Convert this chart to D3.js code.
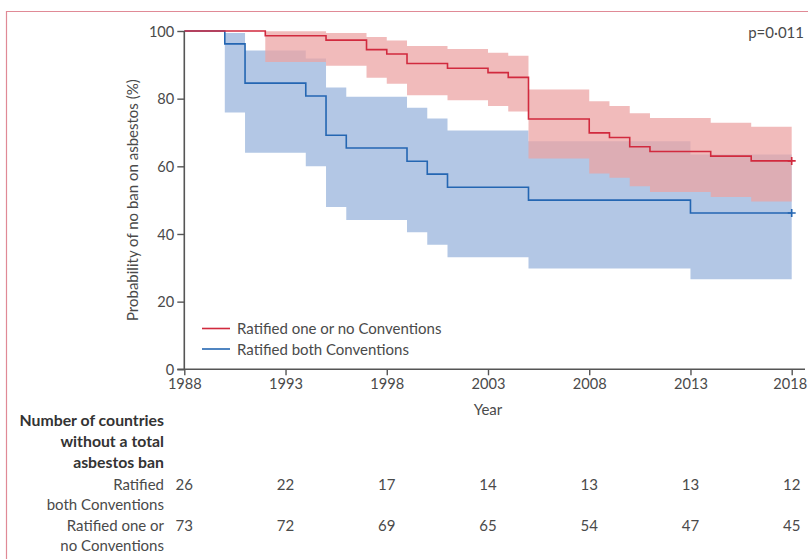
<!DOCTYPE html>
<html><head><meta charset="utf-8">
<script src="https://cdn.jsdelivr.net/npm/d3@7"></script>
<style>
html,body{margin:0;padding:0;background:#fff;}
svg{display:block;font-family:Lato,"Open Sans",sans-serif;}
</style></head><body>
<svg id="chart" width="808" height="559"></svg>
<script>
// ---- data ----
const yTicks = [0, 20, 40, 60, 80, 100];
const xTicks = [1988, 1993, 1998, 2003, 2008, 2013, 2018];

// Ratified both Conventions
const bothTimes = [1988, 1990, 1991, 1994, 1995, 1996, 1999, 2000, 2001, 2005, 2013, 2018];
const bothSurv  = [100, 96.2, 84.6, 80.8, 69.2, 65.4, 61.5, 57.7, 53.8, 50.0, 46.2, 46.2];
const bothUpper = [100, 99.4, 94.2, 91.9, 83.3, 80.6, 77.3, 74.1, 70.6, 67.4, 63.5, 63.5];
const bothLower = [100, 75.9, 64.0, 60.0, 48.0, 44.1, 40.5, 36.8, 33.1, 29.8, 26.6, 26.6];

// Ratified one or no Conventions
const oneTimes = [1988, 1992, 1995, 1997, 1998, 1999, 2001, 2003, 2004, 2005, 2008, 2009, 2010, 2011, 2014, 2016, 2018];
const oneSurv  = [100, 98.6, 97.3, 94.5, 93.2, 90.4, 89.0, 87.7, 86.3, 74.0, 69.9, 68.5, 65.8, 64.4, 63.0, 61.6, 61.6];
const oneUpper = [100, 99.9, 99.4, 98.2, 97.2, 95.6, 94.7, 93.6, 92.7, 82.7, 79.2, 77.8, 75.7, 74.3, 72.9, 71.7, 71.7];
const oneLower = [100, 90.8, 89.7, 86.2, 84.4, 81.0, 79.5, 77.8, 76.2, 62.3, 57.9, 56.6, 54.1, 52.4, 50.9, 49.6, 49.6];

const riskBoth = [26, 22, 17, 14, 13, 13, 12];
const riskOne  = [73, 72, 69, 65, 54, 47, 45];

const seriesNames = ["Ratified one or no Conventions", "Ratified both Conventions"];

// ---- drawing ----
const svg = d3.select("#chart");
const x = d3.scaleLinear().domain([1988, 2018]).range([184.3, 791.7]);
const y = d3.scaleLinear().domain([0, 100]).range([369.3, 31]);

const colRed = "#d12a3e", colBlue = "#2466b2";
const bandBlue = "#b3c7e5", bandRed = "rgba(236,163,163,0.74)";
const axisCol = "#555", textCol = "#4a4a4a";
const fs = "15px";

// frame
svg.append("path").attr("d", "M6.5,559 V11.5 H808").attr("fill", "none")
  .attr("stroke", "#e08a96").attr("stroke-width", 1.2);

function rows(times, a, b, c) { return times.map((t, i) => ({t, s: a[i], u: b[i], l: c[i]})); }
const both = rows(bothTimes, bothSurv, bothUpper, bothLower);
const one = rows(oneTimes, oneSurv, oneUpper, oneLower);

const area = d3.area().curve(d3.curveStepAfter).x(d => x(d.t)).y0(d => y(d.l)).y1(d => y(d.u));
const line = d3.line().curve(d3.curveStepAfter).x(d => x(d.t)).y(d => y(d.s));

svg.append("path").attr("d", area(both.slice(1))).attr("fill", bandBlue);
svg.append("path").attr("d", area(one.slice(1))).attr("fill", bandRed);

svg.append("path").attr("d", line(both)).attr("fill", "none").attr("stroke", colBlue).attr("stroke-width", 1.6);
svg.append("path").attr("d", line(one)).attr("fill", "none").attr("stroke", colRed).attr("stroke-width", 1.6);

// censor marks
[[one, colRed], [both, colBlue]].forEach(([d, c]) => {
  const last = d[d.length - 1];
  const cx = x(last.t), cy = y(last.s);
  svg.append("path").attr("d", `M${cx-4},${cy}H${cx+4}M${cx},${cy-4}V${cy+4}`)
    .attr("stroke", c).attr("stroke-width", 1.6).attr("fill", "none");
});

// axes
const gy = svg.append("g").attr("transform", `translate(${x(1988)},0)`)
  .call(d3.axisLeft(y).tickValues(yTicks).tickSize(7).tickPadding(3));
const gx = svg.append("g").attr("transform", `translate(0,${y(0)})`)
  .call(d3.axisBottom(x).tickValues(xTicks).tickFormat(d3.format("d")).tickSize(6).tickPadding(3));
[gx, gy].forEach(g => {
  g.select(".domain").remove();
  g.selectAll("line").attr("stroke", axisCol).attr("stroke-width", 1.4);
  g.selectAll("text").attr("fill", textCol).style("font-size", "14.6px").style("font-family", "Lato, sans-serif");
});
gy.selectAll("text").attr("dy", "0.35em");
gx.selectAll("text").filter(d => d === 2018).attr("dx", "-2");
svg.append("line").attr("x1", x(1988)).attr("x2", x(1988)).attr("y1", y(100)).attr("y2", y(0))
  .attr("stroke", axisCol).attr("stroke-width", 1.6);
svg.append("line").attr("x1", x(1988) - 7).attr("x2", 805).attr("y1", y(0)).attr("y2", y(0))
  .attr("stroke", axisCol).attr("stroke-width", 1.6);

svg.append("text").attr("transform", `translate(138,${(y(0)+y(100))/2}) rotate(-90)`)
  .attr("text-anchor", "middle").attr("fill", textCol).style("font-size", fs)
  .text("Probability of no ban on asbestos (%)");
svg.append("text").attr("x", x(2003)).attr("y", 415).attr("text-anchor", "middle")
  .attr("fill", textCol).style("font-size", fs).text("Year");

svg.append("text").attr("x", 804).attr("y", 38).attr("text-anchor", "end")
  .attr("fill", textCol).style("font-size", fs).text("p=0·011");

// legend
[colRed, colBlue].forEach((c, i) => {
  const ly = 328.5 + i * 20.5;
  svg.append("line").attr("x1", 202).attr("x2", 230).attr("y1", ly).attr("y2", ly)
    .attr("stroke", c).attr("stroke-width", 1.6);
  svg.append("text").attr("x", 237).attr("y", ly + 5.5).attr("fill", textCol)
    .style("font-size", fs).text(seriesNames[i]);
});

// risk table
const hdr = ["Number of countries", "without a total", "asbestos ban"];
hdr.forEach((t, i) => svg.append("text").attr("x", 164).attr("y", 426 + i * 21)
  .attr("text-anchor", "end").attr("fill", "#333").style("font-weight", "700")
  .style("font-size", "15.8px").text(t));
[["Ratified", "both Conventions"], ["Ratified one or", "no Conventions"]].forEach((lbl, r) => {
  lbl.forEach((t, j) => svg.append("text").attr("x", 164).attr("y", 490 + r * 41 + j * 20)
    .attr("text-anchor", "end").attr("fill", textCol).style("font-size", fs).text(t));
});
[riskBoth, riskOne].forEach((vals, r) => {
  vals.forEach((v, i) => svg.append("text").attr("x", x(xTicks[i])).attr("y", 490 + r * 41)
    .attr("text-anchor", "middle").attr("fill", textCol).style("font-size", fs).text(v));
});
</script>
</body></html>
